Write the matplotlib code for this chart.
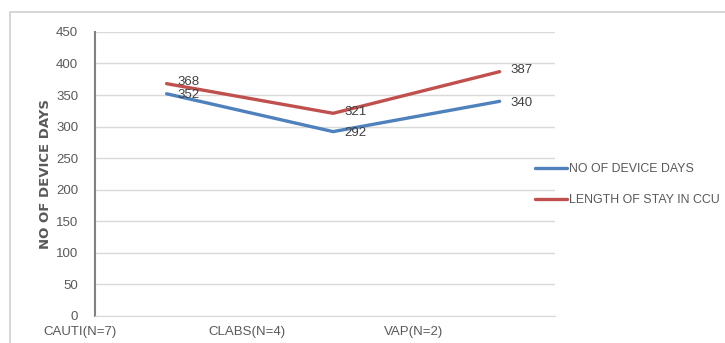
import matplotlib.pyplot as plt
from matplotlib.patches import Rectangle

categories = ['CAUTI(N=7)', 'CLABS(N=4)', 'VAP(N=2)']
device_days = [352, 292, 340]
length_of_stay = [368, 321, 387]
y_ticks = [0, 50, 100, 150, 200, 250, 300, 350, 400, 450]

BLUE = '#4F81BD'
RED = '#C0504D'
TEXT = '#595959'
GRID = '#D9D9D9'

plt.rcParams['font.family'] = ['Liberation Sans', 'DejaVu Sans']

fig = plt.figure(figsize=(7.25, 3.43), dpi=100)
ax = fig.add_axes([0.131, 0.079, 0.634, 0.828])

# chart frame (cut off at the right and bottom)
fig.patches.append(Rectangle((10 / 725, -0.1), 1.2, (343 - 12) / 343 + 0.1,
                             transform=fig.transFigure, fill=False,
                             edgecolor='#D0D0D0', linewidth=1.2))

x = list(range(len(categories)))
ax.plot(x, device_days, color=BLUE, linewidth=2.4, solid_capstyle='round',
        label='NO OF DEVICE DAYS')
ax.plot(x, length_of_stay, color=RED, linewidth=2.4, solid_capstyle='round',
        label='LENGTH OF STAY IN CCU')

for xi, v in zip(x, device_days):
    ax.annotate(str(v), (xi, v), xytext=(8, -1), textcoords='offset points',
                va='center', ha='left', fontsize=9.5, color='#404040')
for xi, v in zip(x, length_of_stay):
    ax.annotate(str(v), (xi, v), xytext=(8, 1), textcoords='offset points',
                va='center', ha='left', fontsize=9.5, color='#404040')

ax.set_ylim(0, 450)
ax.set_xlim(-0.43, 2.33)
ax.set_yticks(y_ticks)
ax.set_xticks([])
ax.tick_params(axis='y', length=0, labelsize=9.5, labelcolor=TEXT, pad=12)
ax.yaxis.grid(True, color=GRID, linewidth=1)
ax.set_axisbelow(True)

for side in ['top', 'right']:
    ax.spines[side].set_visible(False)
ax.spines['left'].set_color('#808080')
ax.spines['left'].set_linewidth(1.5)
ax.spines['bottom'].set_color(GRID)

# category labels sit left of the plotted points
for i, c in enumerate(categories):
    ax.text(i - 0.52, -0.035, c, transform=ax.get_xaxis_transform(),
            ha='center', va='top', fontsize=9.5, color=TEXT, clip_on=False)

ax.set_ylabel('NO OF DEVICE DAYS', fontsize=9.5, color=TEXT,
              fontweight='bold', family='DejaVu Sans', labelpad=3)

ax.legend(loc='center left', bbox_to_anchor=(0.933, 0.462), frameon=False,
          fontsize=8.9, labelcolor=TEXT, handlelength=2.6, handletextpad=0.15,
          labelspacing=1.5)

fig.savefig('out.png', dpi=100)
